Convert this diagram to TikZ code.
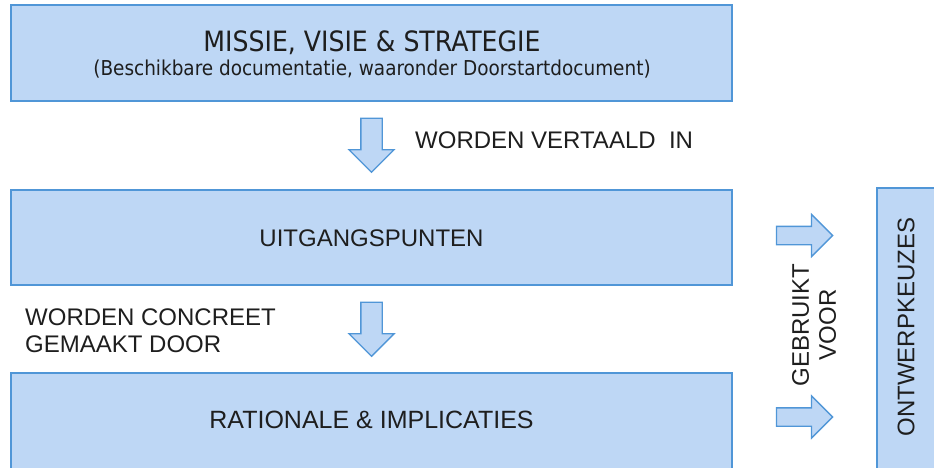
\documentclass[tikz,border=0pt]{standalone}
\usepackage{fontspec}
\usepackage{xcolor}
\usetikzlibrary{shapes.arrows}
\setmainfont{Liberation Sans}
\newfontfamily\titlefont{DejaVu Sans Condensed}

\definecolor{blokvul}{RGB}{190,215,245}
\definecolor{bloklijn}{RGB}{80,150,215}
\definecolor{tekst}{RGB}{30,30,30}

\tikzset{
  blok/.style={draw=bloklijn, line width=1.6pt, fill=blokvul, rectangle, inner sep=0pt},
  pijl/.style={draw=bloklijn, line width=1.3pt, fill=blokvul, single arrow, inner xsep=0pt,
    inner ysep=10pt, single arrow head extend=12pt, minimum height=54pt, single arrow tip angle=90},
  label/.style={text=tekst, font=\fontsize{24}{27}\selectfont, inner sep=0pt}
}

\begin{document}
\begin{tikzpicture}[x=1pt,y=-1pt]
\useasboundingbox (0,0) rectangle (934,468);

\node[blok, minimum width=721pt, minimum height=96pt] (missie) at (371.5,53) {};
\node[blok, minimum width=721pt, minimum height=95pt] (uitgang) at (371.5,237.5) {};
\node[blok, minimum width=721pt, minimum height=99pt] (rationale) at (371.5,422.5) {};
\node[blok, minimum width=61pt, minimum height=284pt] (ontwerp) at (907.5,330) {};

\node[text=tekst, font=\titlefont\fontsize{28}{30}\selectfont, inner sep=0pt] (missietitel) at (372,43) {MISSIE, VISIE \& STRATEGIE};
\node[text=tekst, font=\titlefont\fontsize{20.5}{23}\selectfont, inner sep=0pt] (missiesub) at (372,69) {(Beschikbare documentatie, waaronder Doorstartdocument)};
\node[label] (uitgangtekst) at (371.5,238) {UITGANGSPUNTEN};
\node[label, font=\fontsize{25}{28}\selectfont] (rationaletekst) at (371.5,420) {RATIONALE \& IMPLICATIES};
\node[label, rotate=90] (ontwerptekst) at (906,327) {ONTWERPKEUZES};

% pijlen
\node[pijl, rotate=-90] (pijl1) at (371.5,140) {};
\node[pijl, rotate=-90] (pijl2) at (371.5,324) {};
\node[pijl, inner ysep=8.5pt, single arrow head extend=12pt, minimum height=56pt] (pijlr1) at (800,235.5) {};
\node[pijl, inner ysep=8.5pt, single arrow head extend=12pt, minimum height=56pt] (pijlr2) at (800,417) {};

\node[label, anchor=west] (vertaald) at (415,140) {WORDEN VERTAALD\ \ IN};
\node[label, anchor=west, align=left] (concreet) at (25,331) {WORDEN CONCREET\\GEMAAKT DOOR};
\node[label, rotate=90, align=center] (gebruikt) at (814,325) {GEBRUIKT\\VOOR};
\end{tikzpicture}
\end{document}
